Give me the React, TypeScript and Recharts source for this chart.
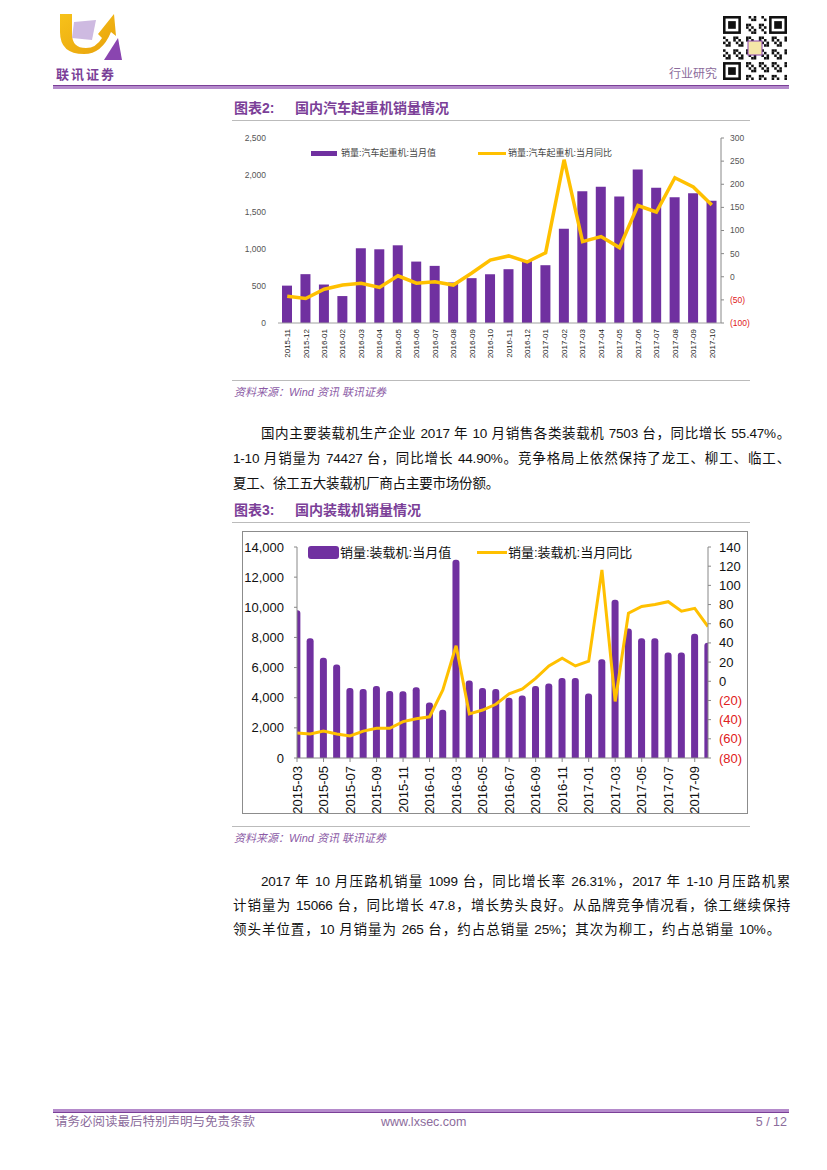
import React from "react";
import { Bar, ComposedChart, Line, XAxis, YAxis } from "recharts";

// 图表2 国内汽车起重机
const craneMonths = [
  "2015-11", "2015-12", "2016-01", "2016-02", "2016-03", "2016-04", "2016-05", "2016-06",
  "2016-07", "2016-08", "2016-09", "2016-10", "2016-11", "2016-12", "2017-01", "2017-02",
  "2017-03", "2017-04", "2017-05", "2017-06", "2017-07", "2017-08", "2017-09", "2017-10",
];
const craneSales = [
  505, 660, 520, 364, 1010, 996, 1050, 830, 772, 548, 606, 660,
  727, 840, 781, 1275, 1782, 1840, 1710, 2073, 1827, 1701, 1755, 1652,
];
const craneYoY = [
  -42, -47, -27, -18, -14, -23, 2, -14, -11, -18, 8, 36,
  45, 32, 52, 253, 76, 87, 63, 154, 140, 214, 194, 155,
];
const craneSalesTicks = [0, 500, 1000, 1500, 2000, 2500];
const craneYoYTicks = [-100, -50, 0, 50, 100, 150, 200, 250, 300];

// 图表3 国内装载机
const loaderMonths = [
  "2015-03", "2015-04", "2015-05", "2015-06", "2015-07", "2015-08", "2015-09", "2015-10",
  "2015-11", "2015-12", "2016-01", "2016-02", "2016-03", "2016-04", "2016-05", "2016-06",
  "2016-07", "2016-08", "2016-09", "2016-10", "2016-11", "2016-12", "2017-01", "2017-02",
  "2017-03", "2017-04", "2017-05", "2017-06", "2017-07", "2017-08", "2017-09", "2017-10",
];
const loaderSales = [
  9800, 7950, 6650, 6200, 4650, 4580, 4780, 4450, 4430, 4700,
  3680, 3200, 13150, 5150, 4650, 4580, 4000, 4150, 4780, 4950, 5300, 5300,
  4280, 6550, 10500, 8600, 7950, 7950, 7000, 7000, 8250, 7650,
];
const loaderYoY = [
  -54, -55, -52, -55, -57, -52, -49, -49, -42, -39,
  -37, -9, 37, -34, -30, -24, -13, -8, 3, 16, 24, 16,
  21, 116, -21, 71, 78, 80, 83, 73, 76, 57,
];
const loaderSalesTicks = [0, 2000, 4000, 6000, 8000, 10000, 12000, 14000];
const loaderYoYTicks = [-80, -60, -40, -20, 0, 20, 40, 60, 80, 100, 120, 140];
const loaderLabelIdx = [0, 2, 4, 6, 8, 10, 12, 14, 16, 18, 20, 22, 24, 26, 28, 30];

const PURPLE = "#7030A0";
const YELLOW = "#FFC000";
const NUM_FONT = "'Liberation Sans', Arial, 'Noto Sans CJK SC', sans-serif";
const CJK_FONT = "'Liberation Sans', 'Noto Sans CJK SC', sans-serif";

const craneData = craneMonths.map((m, i) => ({ month: m, sales: craneSales[i], yoy: craneYoY[i] }));
const loaderData = loaderMonths.map((m, i) => ({ idx: i, month: m, sales: loaderSales[i], yoy: loaderYoY[i] }));

const fmtParen = (v: number) => (v < 0 ? `(${-v})` : `${v}`);

const RotTick = ({ x, y, label, fs, gap, color }: any) => (
  <g transform={`translate(${x},${y})`}>
    <text transform="rotate(-90)" x={-gap} y={0} dy="0.35em" textAnchor="end" fontSize={fs} fill={color} fontFamily={NUM_FONT}>
      {label}
    </text>
  </g>
);

const YoYTick = ({ x, y, payload, fs, color }: any) => (
  <text x={x} y={y} dy="0.35em" textAnchor="start" fontSize={fs} fontFamily={NUM_FONT} fill={payload.value < 0 ? "#E02020" : color}>
    {fmtParen(payload.value)}
  </text>
);

function Logo() {
  return (
    <svg width={80} height={75} style={{ position: "absolute", left: 52, top: 8 }}>
      <defs>
        <linearGradient id="lg1" x1="0" y1="0" x2="1" y2="1">
          <stop offset="0" stopColor="#F7C21A" />
          <stop offset="1" stopColor="#E8A20C" />
        </linearGradient>
      </defs>
      <path d="M8 6 L20 6 L20 26 Q20 40 34 40 Q44 40 50 30 L46 26 L62 6 L64 28 L59 24 Q50 46 32 46 Q8 46 8 24 Z" fill="url(#lg1)" />
      <path d="M22 14 L44 12 L40 32 L20 30 Z" fill="#C9B3DE" opacity="0.9" />
      <path d="M52 52 L66 30 L70 52 Z" fill="#8A45B0" />
      <text x={4} y={71} fontSize={13} fontWeight={700} fill="#7B3F98" fontFamily="'Noto Sans CJK SC', sans-serif" letterSpacing={2}>
        联讯证券
      </text>
    </svg>
  );
}

function QrCode() {
  const n = 25;
  const m = 2.56;
  const cells: JSX.Element[] = [];
  const inFinder = (i: number, j: number) =>
    (i < 8 && j < 8) || (i < 8 && j > n - 9) || (i > n - 9 && j < 8);
  for (let i = 0; i < n; i++) {
    for (let j = 0; j < n; j++) {
      if (inFinder(i, j)) continue;
      if ((i * 7 + j * 13 + i * j) % 5 < 2) {
        cells.push(<rect key={`${i}-${j}`} x={j * m} y={i * m} width={m} height={m} fill="#111" />);
      }
    }
  }
  const finder = (fx: number, fy: number) => (
    <g key={`f${fx}${fy}`}>
      <rect x={fx * m} y={fy * m} width={7 * m} height={7 * m} fill="#111" />
      <rect x={(fx + 1) * m} y={(fy + 1) * m} width={5 * m} height={5 * m} fill="#fff" />
      <rect x={(fx + 2) * m} y={(fy + 2) * m} width={3 * m} height={3 * m} fill="#111" />
    </g>
  );
  return (
    <svg width={64} height={64} style={{ position: "absolute", left: 723, top: 16 }}>
      <rect width={64} height={64} fill="#fff" />
      {cells}
      {finder(0, 0)}
      {finder(n - 7, 0)}
      {finder(0, n - 7)}
      <rect x={25} y={25} width={14} height={14} fill="#F5E6A8" stroke="#8A45B0" strokeWidth={1} />
    </svg>
  );
}

const para1 = [
  { left: 261, text: "国内主要装载机生产企业 2017 年 10 月销售各类装载机 7503 台，同比增长 55.47%。" },
  { left: 233, text: "1-10 月销量为 74427 台，同比增长 44.90%。竞争格局上依然保持了龙工、柳工、临工、" },
  { left: 233, text: "夏工、徐工五大装载机厂商占主要市场份额。", last: true },
];
const para2 = [
  { left: 261, text: "2017 年 10 月压路机销量 1099 台，同比增长率 26.31%，2017 年 1-10 月压路机累" },
  { left: 233, text: "计销量为 15066 台，同比增长 47.8，增长势头良好。从品牌竞争情况看，徐工继续保持" },
  { left: 233, text: "领头羊位置，10 月销量为 265 台，约占总销量 25%；其次为柳工，约占总销量 10%。", last: true, width: 547 },
];

function Paragraph({ lines, top, step }: any) {
  return (
    <>
      {lines.map((l: any, i: number) => (
        <div
          key={i}
          style={{
            position: "absolute",
            left: l.left,
            top: top + i * step,
            width: l.width ?? 790 - l.left,
            fontSize: 13.5,
            letterSpacing: -0.2,
            lineHeight: "20px",
            textAlign: "justify",
            textAlignLast: l.last && !l.width ? "left" : "justify",
            color: "#111",
            fontFamily: CJK_FONT,
          }}
        >
          {l.text}
        </div>
      ))}
    </>
  );
}

function Caption({ top, num, title }: any) {
  return (
    <>
      <div style={{ position: "absolute", left: 234, top: top - 10, fontSize: 14, lineHeight: "20px", fontWeight: 700, color: "#7B3F98", fontFamily: CJK_FONT, whiteSpace: "nowrap" }}>
        <span>图表{num}:</span>
        <span style={{ position: "absolute", left: 61 }}>{title}</span>
      </div>
      <div style={{ position: "absolute", left: 232, top: top + 12, width: 518, height: 1, background: "#BBBBBB" }} />
    </>
  );
}

function Source({ top }: any) {
  return (
    <>
      <div style={{ position: "absolute", left: 232, top: top - 12, width: 518, height: 1, background: "#BBBBBB" }} />
      <div style={{ position: "absolute", left: 234, top: top - 7, fontSize: 11, lineHeight: "14px", fontStyle: "italic", color: "#8C5BA6", fontFamily: CJK_FONT, whiteSpace: "nowrap" }}>
        资料来源：Wind 资讯 联讯证券
      </div>
    </>
  );
}

function CraneChart() {
  return (
    <div style={{ position: "absolute", left: 230, top: 128 }}>
      <ComposedChart width={540} height={240} data={craneData} margin={{ top: 10, right: 0, bottom: 0, left: 0 }}>
        <XAxis
          dataKey="month"
          xAxisId="x"
          height={45}
          interval={0}
          tickSize={0}
          tickMargin={0}
          axisLine={{ stroke: "#A0A0A0" }}
          tickLine={false}
          tick={(p: any) => <RotTick x={p.x} y={p.y} label={p.payload.value} fs={8} gap={6} color="#222" />}
        />
        <YAxis
          yAxisId="l"
          width={48}
          domain={[0, 2500]}
          ticks={craneSalesTicks}
          interval={0}
          axisLine={false}
          tickLine={false}
          tickSize={0}
          tickMargin={12}
          tick={{ fontSize: 8.5, fill: "#555", fontFamily: NUM_FONT }}
          tickFormatter={(v: number) => v.toLocaleString("en-US")}
        />
        <YAxis
          yAxisId="r"
          orientation="right"
          width={49}
          domain={[-100, 300]}
          ticks={craneYoYTicks}
          interval={0}
          axisLine={{ stroke: "#888" }}
          tickLine={{ stroke: "#888" }}
          tickSize={3}
          tickMargin={6}
          tick={(p: any) => <YoYTick {...p} fs={8.5} color="#555" />}
        />
        <Bar xAxisId="x" yAxisId="l" dataKey="sales" fill={PURPLE} barSize={10} isAnimationActive={false} />
        <Line xAxisId="x" yAxisId="r" dataKey="yoy" type="linear" stroke={YELLOW} strokeWidth={3.5} dot={false} isAnimationActive={false} />
      </ComposedChart>
      <div style={{ position: "absolute", left: 81, top: 23, width: 26, height: 5, background: PURPLE }} />
      <div style={{ position: "absolute", left: 111, top: 19, fontSize: 9, lineHeight: "12px", color: "#444", fontFamily: CJK_FONT, whiteSpace: "nowrap" }}>
        销量:汽车起重机:当月值
      </div>
      <div style={{ position: "absolute", left: 248, top: 24, width: 28, height: 3, background: YELLOW }} />
      <div style={{ position: "absolute", left: 278, top: 19, fontSize: 9, lineHeight: "12px", color: "#444", fontFamily: CJK_FONT, whiteSpace: "nowrap" }}>
        销量:汽车起重机:当月同比
      </div>
    </div>
  );
}

function LoaderChart() {
  return (
    <div style={{ position: "absolute", left: 242, top: 531, width: 506, height: 283, border: "1px solid #8C8C8C", boxSizing: "border-box" }}>
      <div style={{ position: "absolute", left: -1, top: -1 }}>
        <ComposedChart width={506} height={283} data={loaderData} margin={{ top: 16, right: 0, bottom: 0, left: 0 }}>
          <XAxis
            dataKey="idx"
            xAxisId="x"
            type="number"
            domain={[0, 31]}
            ticks={loaderLabelIdx}
            allowDataOverflow
            height={56}
            interval={0}
            tickSize={4}
            tickMargin={0}
            axisLine={{ stroke: "#888" }}
            tickLine={{ stroke: "#888" }}
            tick={(p: any) => <RotTick x={p.x} y={p.y} label={loaderMonths[p.payload.value]} fs={13} gap={4} color="#111" />}
          />
          <YAxis
            yAxisId="l"
            width={55}
            domain={[0, 14000]}
            ticks={loaderSalesTicks}
            interval={0}
            axisLine={{ stroke: "#888" }}
            tickLine={{ stroke: "#888" }}
            tickSize={3}
            tickMargin={10}
            tick={{ fontSize: 13, fill: "#111", fontFamily: NUM_FONT }}
            tickFormatter={(v: number) => v.toLocaleString("en-US")}
          />
          <YAxis
            yAxisId="r"
            orientation="right"
            width={40}
            domain={[-80, 140]}
            ticks={loaderYoYTicks}
            interval={0}
            axisLine={{ stroke: "#888" }}
            tickLine={{ stroke: "#888" }}
            tickSize={3}
            tickMargin={8}
            tick={(p: any) => <YoYTick {...p} fs={13} color="#111" />}
          />
          <Bar xAxisId="x" yAxisId="l" dataKey="sales" fill={PURPLE} barSize={7} radius={[3, 3, 0, 0]} isAnimationActive={false} />
          <Line xAxisId="x" yAxisId="r" dataKey="yoy" type="linear" stroke={YELLOW} strokeWidth={3} dot={false} isAnimationActive={false} />
        </ComposedChart>
        <div style={{ position: "absolute", left: 66, top: 15, width: 31, height: 13, borderRadius: 3, background: PURPLE }} />
        <div style={{ position: "absolute", left: 98, top: 13, fontSize: 13, lineHeight: "17px", color: "#111", fontFamily: CJK_FONT, whiteSpace: "nowrap" }}>
          销量:装载机:当月值
        </div>
        <div style={{ position: "absolute", left: 235, top: 20, width: 30, height: 3, background: YELLOW }} />
        <div style={{ position: "absolute", left: 266, top: 13, fontSize: 13, lineHeight: "17px", color: "#111", fontFamily: CJK_FONT, whiteSpace: "nowrap" }}>
          销量:装载机:当月同比
        </div>
      </div>
    </div>
  );
}

export default function App() {
  return (
    <div style={{ position: "absolute", left: 0, top: 0, width: 827, height: 1170, background: "#fff", overflow: "hidden", fontFamily: CJK_FONT }}>
      <Logo />
      <QrCode />
      <div style={{ position: "absolute", left: 669, top: 66, fontSize: 12, lineHeight: "14px", color: "#8C6C9C", fontFamily: "'Noto Sans CJK SC', sans-serif" }}>
        行业研究
      </div>
      <div style={{ position: "absolute", left: 53, top: 85, width: 736, height: 1, background: "#7B3F98" }} />
      <div style={{ position: "absolute", left: 53, top: 86, width: 736, height: 3, background: "#B48ACB" }} />

      <Caption top={108} num={2} title="国内汽车起重机销量情况" />
      <CraneChart />
      <Source top={392} />
      <Paragraph lines={para1} top={424} step={25} />

      <Caption top={510} num={3} title="国内装载机销量情况" />
      <LoaderChart />
      <Source top={838} />
      <Paragraph lines={para2} top={872} step={24} />

      <div style={{ position: "absolute", left: 53, top: 1109, width: 736, height: 3, background: "#B48ACB" }} />
      <div style={{ position: "absolute", left: 53, top: 1112, width: 736, height: 1, background: "#7B3F98" }} />
      <div style={{ position: "absolute", left: 55, top: 1115, fontSize: 12.5, lineHeight: "15px", color: "#8C6C9C", whiteSpace: "nowrap" }}>
        请务必阅读最后特别声明与免责条款
      </div>
      <div style={{ position: "absolute", left: 381, top: 1115, fontSize: 12.5, lineHeight: "15px", color: "#8C6C9C", fontFamily: NUM_FONT }}>
        www.lxsec.com
      </div>
      <div style={{ position: "absolute", left: 700, top: 1115, width: 87, textAlign: "right", fontSize: 12.5, lineHeight: "15px", color: "#8C6C9C", fontFamily: NUM_FONT }}>
        5 / 12
      </div>
    </div>
  );
}
